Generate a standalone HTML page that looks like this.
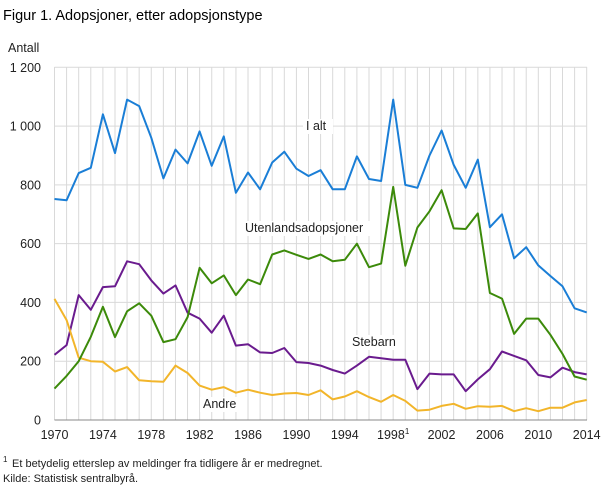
<!DOCTYPE html>
<html><head><meta charset="utf-8"><style>
body{margin:0;background:#fff;width:609px;height:488px;overflow:hidden;font-family:"Liberation Sans",sans-serif;}
svg{position:absolute;left:0;top:0}
</style></head><body>
<svg id="s" width="609" height="488" xmlns="http://www.w3.org/2000/svg" font-family="Liberation Sans, sans-serif"></svg>
<script>
const s=document.getElementById('s');
const X0=54.5,DX=(586.7-54.5)/44,Y0=420,K=(420-67.3)/1200;
let h='';
h+='<text x="3" y="20" font-size="14.5" fill="#000">Figur 1. Adopsjoner, etter adopsjonstype</text>';
h+='<text x="8" y="52" font-size="12.5" fill="#222">Antall</text>';
for(let i=0;i<=44;i++){const x=X0+i*DX;h+=`<line x1="${x}" y1="67" x2="${x}" y2="420" stroke="#d9d9d9" stroke-width="1"/>`;}
const yl=['0','200','400','600','800','1 000','1 200'];
for(let i=0;i<=6;i++){const y=Y0-i*200*K;h+=`<line x1="${X0}" y1="${y}" x2="587" y2="${y}" stroke="${i==0?'#888':'#d9d9d9'}" stroke-width="1"/>`;
h+=`<text x="41" y="${y+4.5}" font-size="12.5" text-anchor="end" fill="#222">${yl[i]}</text>`;}
for(let yr=1970;yr<=2014;yr+=4){const x=X0+(yr-1970)*DX;h+=`<text x="${x}" y="439" font-size="12.5" text-anchor="middle" fill="#222">${yr}${yr==1998?'<tspan font-size="8" dy="-5">1</tspan>':''}</text>`;}
const S={
'#1a7ed6':[752,748,840,858,1040,908,1090,1068,960,822,920,873,982,865,965,773,842,785,876,913,855,830,850,785,785,897,820,813,1090,800,790,900,985,868,790,886,656,700,550,588,526,490,455,380,366],
'#6a1b8e':[222,255,425,375,452,455,540,530,475,430,458,365,345,297,355,253,258,230,228,245,197,194,185,170,158,185,215,210,205,205,105,158,155,155,98,138,173,233,218,203,153,145,178,163,155],
'#f2b52a':[412,340,212,200,198,165,180,135,132,130,185,160,117,103,112,93,103,93,85,90,92,85,101,70,80,98,78,62,85,65,32,35,48,55,38,47,45,48,30,40,30,42,42,60,68],
'#3c8a0a':[107,150,200,283,385,282,370,397,355,265,275,350,518,465,492,425,478,462,563,577,562,548,563,540,545,600,520,532,793,525,655,710,782,652,650,703,432,413,293,345,345,290,225,148,137]};
for(const c in S){h+=`<polyline fill="none" stroke="${c}" stroke-width="2" stroke-linejoin="round" points="${S[c].map((v,i)=>(X0+i*DX).toFixed(1)+','+(Y0-v*K).toFixed(1)).join(' ')}"/>`;}
const lab=[[306,130,'I alt',24],[245,232,'Utenlandsadopsjoner',132],[352,346,'Stebarn',46],[203,408,'Andre',36]];
for(const l of lab){h+=`<rect x="${l[0]-3}" y="${l[1]-11}" width="${l[3]+6}" height="15" fill="#fff"/><text x="${l[0]}" y="${l[1]}" font-size="12.5" fill="#222">${l[2]}</text>`;}
h+='<text x="3" y="462" font-size="8" fill="#222">1</text><text x="12" y="467" font-size="11" fill="#222">Et betydelig etterslep av meldinger fra tidligere år er medregnet.</text>';
h+='<text x="3" y="482" font-size="11" fill="#222">Kilde: Statistisk sentralbyrå.</text>';
s.innerHTML=h;
</script>
</body></html>
